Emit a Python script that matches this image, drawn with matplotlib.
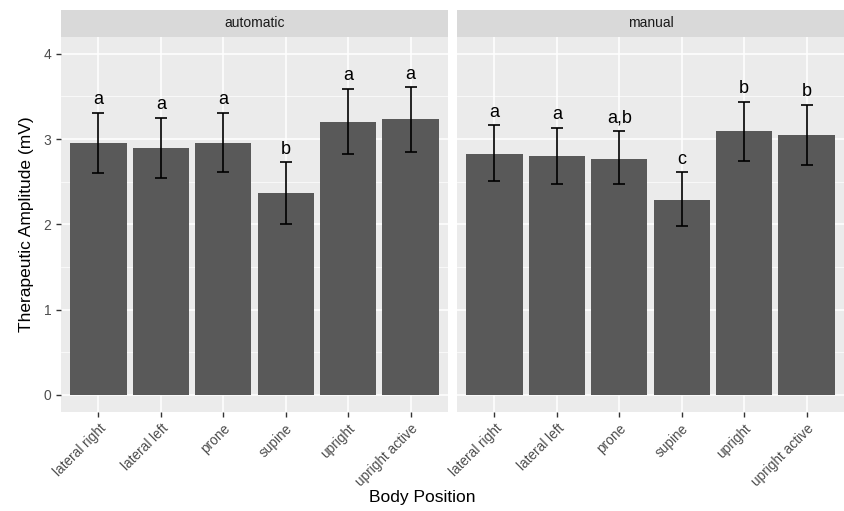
import numpy as np
import matplotlib.pyplot as plt
from matplotlib.ticker import MultipleLocator

# Data
positions = ['lateral right', 'lateral left', 'prone', 'supine', 'upright', 'upright active']
panels = ['automatic', 'manual']

auto_mean = [2.95, 2.89, 2.95, 2.37, 3.20, 3.24]
auto_low = [2.60, 2.54, 2.61, 2.00, 2.82, 2.85]
auto_high = [3.31, 3.25, 3.31, 2.73, 3.59, 3.61]
auto_letters = ['a', 'a', 'a', 'b', 'a', 'a']

man_mean = [2.83, 2.80, 2.77, 2.29, 3.09, 3.05]
man_low = [2.51, 2.47, 2.47, 1.98, 2.74, 2.70]
man_high = [3.16, 3.13, 3.10, 2.61, 3.44, 3.40]
man_letters = ['a', 'a', 'a,b', 'c', 'b', 'b']

plt.rcParams['font.family'] = ['Liberation Sans', 'DejaVu Sans']

fig = plt.figure(figsize=(8.45, 5.11), dpi=100)

bottom, top = 0.194, 0.928
strip_h = 27 / 511
lefts = [61 / 845, 457 / 845]
width = 387 / 845

series = [
    (auto_mean, auto_low, auto_high, auto_letters),
    (man_mean, man_low, man_high, man_letters),
]

x = np.arange(1, len(positions) + 1)

for i, (name, (mean, low, high, letters)) in enumerate(zip(panels, series)):
    ax = fig.add_axes([lefts[i], bottom, width, top - bottom])
    ax.set_facecolor('#EBEBEB')
    for s in ax.spines.values():
        s.set_visible(False)

    mean = np.array(mean)
    yerr = [mean - np.array(low), np.array(high) - mean]
    ax.bar(x, mean, width=0.9, color='#595959', zorder=3)
    ax.errorbar(x, mean, yerr=yerr, fmt='none', ecolor='black',
                elinewidth=1.2, capsize=4.5, capthick=1.2, zorder=4)
    for xi, hi, lab in zip(x, high, letters):
        ax.text(xi, hi + 0.1, lab, ha='center', va='baseline', fontsize=13, zorder=5)

    ax.set_xlim(0.4, 6.6)
    ax.set_ylim(-0.2, 4.2)
    ax.yaxis.set_major_locator(MultipleLocator(1))
    ax.yaxis.set_minor_locator(MultipleLocator(0.5))
    ax.grid(True, which='major', color='white', linewidth=1.1, zorder=0)
    ax.grid(True, which='minor', axis='y', color='white', linewidth=0.5, zorder=0)
    ax.set_axisbelow(True)

    ax.set_xticks(x)
    ax.set_xticklabels(positions, rotation=45, ha='right', rotation_mode='anchor',
                       fontsize=9.8, color='#4D4D4D')
    ax.tick_params(axis='both', which='major', color='#333333', length=3.5, width=1)
    ax.tick_params(axis='y', which='minor', length=0)
    ax.tick_params(axis='y', labelsize=10, labelcolor='#4D4D4D')
    if i == 0:
        ax.set_ylabel('Therapeutic Amplitude (mV)', fontsize=12.5, labelpad=7)
    else:
        ax.tick_params(axis='y', which='both', left=False, labelleft=False)

    # facet strip
    sax = fig.add_axes([lefts[i], top, width, strip_h])
    sax.set_facecolor('#D9D9D9')
    sax.set_xticks([])
    sax.set_yticks([])
    for s in sax.spines.values():
        s.set_visible(False)
    sax.text(0.5, 0.5, name, ha='center', va='center', fontsize=10,
             color='#1A1A1A', transform=sax.transAxes)

fig.text(0.5, 0.012, 'Body Position', ha='center', va='bottom', fontsize=12.5)

fig.savefig('out.png', dpi=100)
